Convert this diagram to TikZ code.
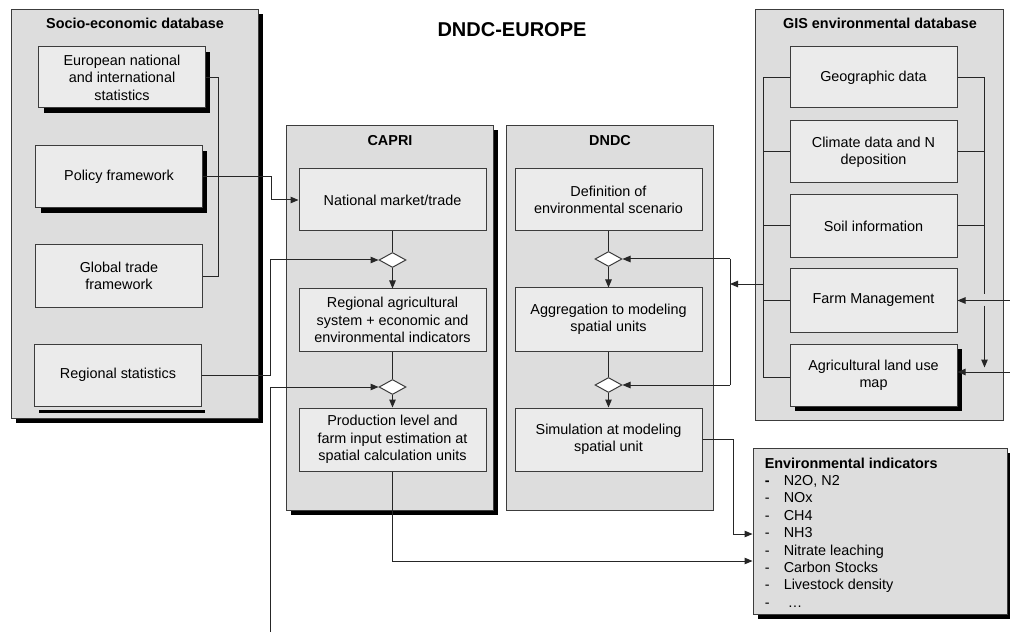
\documentclass[tikz,border=0pt]{standalone}
\usepackage{fontspec}
\setmainfont{Liberation Sans}
\usetikzlibrary{arrows.meta,shapes.geometric,shadows,calc}
\definecolor{framefill}{RGB}{221,221,221}
\definecolor{boxfill}{RGB}{235,235,235}
\definecolor{edgecol}{RGB}{60,60,60}
\begin{document}
\begin{tikzpicture}[x=1bp,y=-1bp,
  every node/.style={font=\fontsize{14.4bp}{17.4bp}\selectfont},
  frame/.style={draw=edgecol,line width=0.9bp,fill=framefill,inner sep=0pt},
  ibox/.style={draw=edgecol,line width=1bp,fill=boxfill,inner sep=0pt,align=center},
  shad/.style={drop shadow={shadow xshift=5bp,shadow yshift=-5bp,fill=black,opacity=1}},
  dia/.style={diamond,draw=edgecol,line width=1bp,fill=white,inner sep=0pt,minimum width=27bp,minimum height=15bp},
  ttl/.style={font=\bfseries\fontsize{14.4bp}{17.4bp}\selectfont,inner sep=0pt},
  conn/.style={draw=black!85,line width=1bp},
  arr/.style={conn,-{Triangle[length=8bp,width=6.5bp]}}
]
\useasboundingbox (0,0) rectangle (1010,640);

% main title
\node[font=\bfseries\fontsize{20bp}{24bp}\selectfont,inner sep=0pt] (main) at (512,30) {DNDC-EUROPE};

% ---------- Socio-economic database ----------
\node[frame,shad,minimum width=247bp,minimum height=409bp] (socio) at (134.5,213.5) {};
\node[ttl] (sociot) at (135,23) {Socio-economic database};
\node[ibox,shad,minimum width=166bp,minimum height=61bp] (eur) at (122,77.5) {European national\\and international\\statistics};
\node[ibox,shad,minimum width=166bp,minimum height=62bp] (pol) at (119,177) {Policy framework};
\node[ibox,minimum width=166bp,minimum height=62bp] (glob) at (119,276) {Global trade\\framework};
\fill[black] (39,409.5) rectangle (205,413);
\node[ibox,minimum width=166bp,minimum height=62bp] (rs) at (118,375) {Regional statistics};

% ---------- CAPRI ----------
\node[frame,shad,minimum width=207bp,minimum height=385bp] (capri) at (389.5,317.5) {};
\node[ttl] (caprit) at (390,141) {CAPRI};
\node[ibox,minimum width=187bp,minimum height=62bp] (nat) at (392.5,200) {National market/trade};
\node[dia] (d1) at (392.5,260) {};
\node[ibox,minimum width=187bp,minimum height=62bp] (reg) at (392.5,320) {Regional agricultural\\system + economic and\\environmental indicators};
\node[dia] (d2) at (392.5,387) {};
\node[ibox,minimum width=187bp,minimum height=63bp] (prod) at (392.5,439.5) {Production level and\\farm input estimation at\\spatial calculation units};

% ---------- DNDC ----------
\node[frame,minimum width=207bp,minimum height=385bp] (dndc) at (609.5,317.5) {};
\node[ttl] (dndct) at (610,141) {DNDC};
\node[ibox,minimum width=187bp,minimum height=62bp] (def) at (608.5,200) {Definition of\\environmental scenario};
\node[dia] (d3) at (608.5,259) {};
\node[ibox,minimum width=187bp,minimum height=63bp] (agg) at (608.5,319.5) {Aggregation to modeling\\spatial units};
\node[dia] (d4) at (608.5,385) {};
\node[ibox,minimum width=187bp,minimum height=63bp] (sim) at (608.5,439.5) {Simulation at modeling\\spatial unit};

% ---------- GIS environmental database ----------
\node[frame,minimum width=248bp,minimum height=411bp] (gis) at (879,214.5) {};
\node[ttl] (gist) at (880,23) {GIS environmental database};
\node[ibox,minimum width=167bp,minimum height=61bp] (geo) at (873.5,77.5) {Geographic data};
\node[ibox,minimum width=167bp,minimum height=62bp] (cli) at (873.5,152) {Climate data and N\\deposition};
\node[ibox,minimum width=167bp,minimum height=62bp] (soil) at (873.5,226) {Soil information};
\node[ibox,minimum width=167bp,minimum height=63bp] (farm) at (873.5,300.5) {Farm Management};
\node[ibox,shad,minimum width=167bp,minimum height=62bp] (agl) at (873.5,375) {Agricultural land use\\map};

% ---------- Environmental indicators ----------
\node[frame,shad,minimum width=254bp,minimum height=166bp] (env) at (880,531) {};
\node[anchor=north west,align=left,inner sep=0pt] (envtxt) at ([xshift=12bp,yshift=-10bp]env.north west)
  {\textbf{Environmental indicators}\\
   \makebox[19bp][l]{\textbf{-}}N2O, N2\\
   \makebox[19bp][l]{-}NOx\\
   \makebox[19bp][l]{-}CH4\\
   \makebox[19bp][l]{-}NH3\\
   \makebox[19bp][l]{-}Nitrate leaching\\
   \makebox[19bp][l]{-}Carbon Stocks\\
   \makebox[19bp][l]{-}Livestock density\\
   \makebox[19bp][l]{-}\hspace{4bp}\ldots};

% ---------- connectors: socio-economic ----------
\draw[conn] (eur.east) -- ++(13,0) |- (glob.east);
\draw[arr] (pol.east) -- ++(69,0) |- (nat.west);
\draw[arr] (rs.east) -- ++(69,0) |- (d1.west);
\coordinate (lowstart) at (270,632);
\draw[arr] (lowstart) |- (d2.west);

% ---------- CAPRI chain ----------
\draw[conn] (nat.south) -- (d1.north);
\draw[arr] (d1.south) -- (reg.north);
\draw[conn] (reg.south) -- (d2.north);
\draw[arr] (d2.south) -- (prod.north);
\draw[arr] (prod.south) |- ([yshift=-30bp]env.west);

% ---------- DNDC chain ----------
\draw[conn] (def.south) -- (d3.north);
\draw[arr] (d3.south) -- (agg.north);
\draw[conn] (agg.south) -- (d4.north);
\draw[arr] (d4.south) -- (sim.north);
\draw[arr] (sim.east) -- ++(31,0) |- ([yshift=-3bp]env.west);

% ---------- GIS to DNDC ----------
\coordinate (bx) at (730,284);
\coordinate (gb) at (764,284);
\draw[arr] (bx |- d3.east) -- (d3.east);
\draw[conn] (bx |- d3.east) -- (bx |- d4.east);
\draw[arr] (bx |- d4.east) -- (d4.east);
\draw[arr] (gb) -- (bx);

% left bracket of GIS boxes
\draw[conn] (geo.west) -- ++(-26,0) |- ([yshift=-2bp]agl.west);
\draw[conn] (cli.west) -- ++(-26,0);
\draw[conn] (soil.west) -- ++(-26,0);
\draw[conn] (farm.west) -- ++(-26,0);

% right bracket of GIS boxes
\draw[conn] (geo.east) -- ++(27,0) coordinate (rt) -- ++(0,216);
\draw[arr] ($(rt)+(0,228)$) -- ($(rt)+(0,290)$);
\draw[conn] (cli.east) -- (cli.east -| rt);
\draw[conn] (soil.east) -- (soil.east -| rt);

% inputs from the right
\coordinate (in1) at (1010,300.5);
\coordinate (in2) at (1010,372);
\draw[arr] (in1) -- (farm.east);
\draw[arr] (in2) -- (agl.east |- in2);
\end{tikzpicture}
\end{document}
